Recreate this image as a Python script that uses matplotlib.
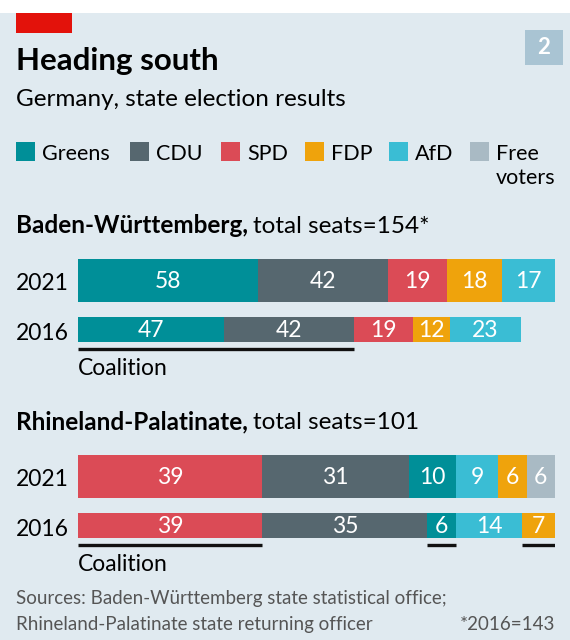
import matplotlib
matplotlib.use("Agg")
import matplotlib.pyplot as plt
from matplotlib.patches import Rectangle
import numpy as np

plt.rcParams['font.family'] = ['Lato', 'DejaVu Sans']

# data
parties = ['Greens', 'CDU', 'SPD', 'FDP', 'AfD', 'Free\nvoters']
colours = {'Greens': '#008f98', 'CDU': '#56676f', 'SPD': '#db4b56',
           'FDP': '#efa30c', 'AfD': '#3abdd4', 'Free': '#a9bac4'}

bw_years = ['2021', '2016']
bw_parties = [['Greens', 'CDU', 'SPD', 'FDP', 'AfD'],
              ['Greens', 'CDU', 'SPD', 'FDP', 'AfD']]
bw_seats = [[58, 42, 19, 18, 17],
            [47, 42, 19, 12, 23]]
bw_total = 154
bw_coalition = ['Greens', 'CDU']

rp_years = ['2021', '2016']
rp_parties = [['SPD', 'CDU', 'Greens', 'AfD', 'FDP', 'Free'],
              ['SPD', 'CDU', 'Greens', 'AfD', 'FDP']]
rp_seats = [[39, 31, 10, 9, 6, 6],
            [39, 35, 6, 14, 7]]
rp_total = 101
rp_coalition = ['SPD', 'Greens', 'FDP']

W, H = 570, 640
BG = '#e0eaf0'
fig = plt.figure(figsize=(W / 100, H / 100), dpi=100)
fig.patch.set_facecolor(BG)


def fx(x):
    return x / W


def fy(y):
    return 1 - y / H


# white strip on top + red tag + number box
fig.patches.append(Rectangle((0, fy(13)), 1, 13 / H, transform=fig.transFigure,
                             facecolor='white', edgecolor='none'))
fig.patches.append(Rectangle((fx(16), fy(33)), 56 / W, 20 / H, transform=fig.transFigure,
                             facecolor='#e3120b', edgecolor='none'))
fig.patches.append(Rectangle((fx(525), fy(65)), 38 / W, 35 / H, transform=fig.transFigure,
                             facecolor='#a9c4d3', edgecolor='none'))
fig.text(fx(544), fy(48), '2', color='white', fontsize=16, fontweight='bold',
         ha='center', va='center')

fig.text(fx(16), fy(70), 'Heading south', fontsize=22.5, fontweight='bold', va='baseline')
fig.text(fx(16), fy(106), 'Germany, state election results', fontsize=17.5, va='baseline')

# legend
leg_x = [16, 130, 221, 305, 389, 470]
for name, x in zip(parties, leg_x):
    key = name.split('\n')[0]
    fig.patches.append(Rectangle((fx(x), fy(161)), 19 / W, 19 / H, transform=fig.transFigure,
                                 facecolor=colours[key], edgecolor='none'))
    lines = name.split('\n')
    fig.text(fx(x + 26), fy(160), lines[0], fontsize=15.5, va='baseline')
    if len(lines) > 1:
        fig.text(fx(x + 26), fy(184), lines[1], fontsize=15.5, va='baseline')

renderer = fig.canvas.get_renderer()


def heading(y, bold, rest):
    t = fig.text(fx(16), fy(y), bold, fontsize=17.5, fontweight='bold', va='baseline')
    bb = t.get_window_extent(renderer=renderer)
    fig.text(bb.x1 / W + 5 / W, fy(y), rest, fontsize=17.5, va='baseline')


def panel(top, years, plist, seats, total, coalition):
    # top = pixel y of the top of the first bar
    ax = fig.add_axes([fx(78), fy(top + 120), (555 - 78) / W, 120 / H])
    ax.set_xlim(0, total)
    ax.set_ylim(120, 0)
    ax.axis('off')
    centres = [21.5, 70.5]
    heights = [43, 25]
    for i in range(2):
        vals = np.array(seats[i])
        lefts = np.concatenate([[0], np.cumsum(vals)[:-1]])
        cols = [colours[p] for p in plist[i]]
        ax.barh(centres[i], vals, left=lefts, height=heights[i], color=cols,
                edgecolor='none')
        for v, l in zip(vals, lefts):
            ax.text(l + v / 2, centres[i] + 1, str(v), color='white', fontsize=16.5,
                    ha='center', va='center')
        fig.text(fx(16), fy(top + centres[i] + 10), years[i], fontsize=16.5,
                 va='baseline')
    # coalition underline on the earlier result
    vals = np.array(seats[1])
    lefts = np.concatenate([[0], np.cumsum(vals)[:-1]])
    segs = [(l, l + v) for p, v, l in zip(plist[1], vals, lefts) if p in coalition]
    merged = []
    for a, b in segs:
        if merged and abs(merged[-1][1] - a) < 1e-9:
            merged[-1] = (merged[-1][0], b)
        else:
            merged.append((a, b))
    for a, b in merged:
        ax.plot([a, b], [90, 90], color='#111111', lw=2.4, solid_capstyle='butt')
    ax.text(0, 116, 'Coalition', fontsize=16.5, va='baseline')


heading(233, 'Baden-Württemberg,', 'total seats=154*')
panel(259, bw_years, bw_parties, bw_seats, bw_total, bw_coalition)

heading(429, 'Rhineland-Palatinate,', 'total seats=101')
panel(455, rp_years, rp_parties, rp_seats, rp_total, rp_coalition)

fig.text(fx(16), fy(604), 'Sources: Baden-Württemberg state statistical office;',
         fontsize=13.5, color='#555555', va='baseline')
fig.text(fx(16), fy(630), 'Rhineland-Palatinate state returning officer',
         fontsize=13.5, color='#555555', va='baseline')
fig.text(fx(555), fy(630), '*2016=143', fontsize=13.5, color='#555555',
         va='baseline', ha='right')

fig.savefig('out.png', dpi=100, facecolor=BG)
